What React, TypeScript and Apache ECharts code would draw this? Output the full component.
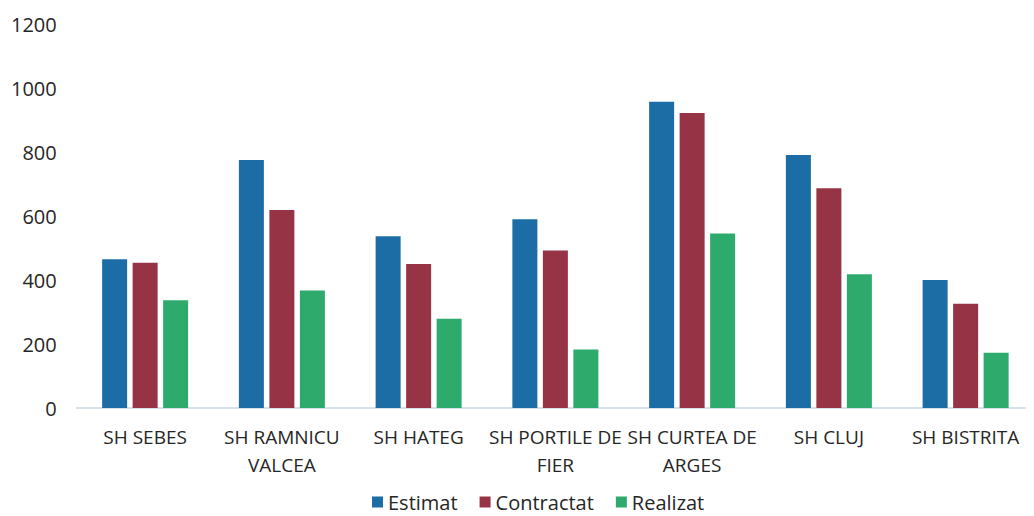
import React, { useEffect, useRef } from "react";
import * as echarts from "echarts";

const categories = [
  "SH SEBES",
  "SH RAMNICU\nVALCEA",
  "SH HATEG",
  "SH PORTILE DE\nFIER",
  "SH CURTEA DE\nARGES",
  "SH CLUJ",
  "SH BISTRITA",
];
const estimat = [465, 775, 537, 590, 957, 791, 400];
const contractat = [454, 619, 450, 492, 922, 687, 326];
const realizat = [337, 367, 279, 183, 545, 418, 173];
const yTicks = { min: 0, max: 1200, interval: 200 };

const FONT = "'Open Sans', 'Noto Sans', sans-serif";
const TEXT = "#262626";

export default function App() {
  const ref = useRef<HTMLDivElement>(null);
  useEffect(() => {
    if (!ref.current) return;
    const chart = echarts.init(ref.current, undefined, { renderer: "svg" });
    const mk = (name: string, data: number[], color: string) => ({
      name,
      type: "bar",
      data,
      barWidth: 25,
      barGap: "22%",
      itemStyle: { color },
    });
    chart.setOption({
      animation: false,
      backgroundColor: "#ffffff",
      textStyle: { fontFamily: FONT },
      grid: { left: 68.75, width: 969.5, top: 16, bottom: 108, containLabel: false },
      legend: {
        top: 484,
        left: 364,
        padding: 0,
        itemWidth: 11,
        itemHeight: 11,
        itemGap: 22,
        icon: "rect",
        textStyle: { fontFamily: FONT, fontSize: 20, lineHeight: 20, color: TEXT },
        data: ["Estimat", "Contractat", "Realizat"],
      },
      xAxis: {
        type: "category",
        data: categories,
        axisLine: { lineStyle: { color: "#d3e2ec", width: 2 } },
        axisTick: { show: false },
        axisLabel: {
          interval: 0,
          margin: 15,
          fontFamily: FONT,
          fontSize: 19,
          color: TEXT,
          lineHeight: 28,
        },
      },
      yAxis: {
        type: "value",
        min: yTicks.min,
        max: yTicks.max,
        interval: yTicks.interval,
        axisLine: { show: false },
        axisTick: { show: false },
        splitLine: { show: false },
        axisLabel: {
          fontFamily: FONT,
          fontSize: 20,
          color: TEXT,
          margin: 20,
          formatter: (v: number) => String(v),
        },
      },
      series: [
        mk("Estimat", estimat, "#1c6ca5"),
        mk("Contractat", contractat, "#963446"),
        mk("Realizat", realizat, "#2eaa6c"),
      ],
    });
    return () => chart.dispose();
  }, []);
  return <div ref={ref} style={{ width: 1026, height: 508 }} />;
}
